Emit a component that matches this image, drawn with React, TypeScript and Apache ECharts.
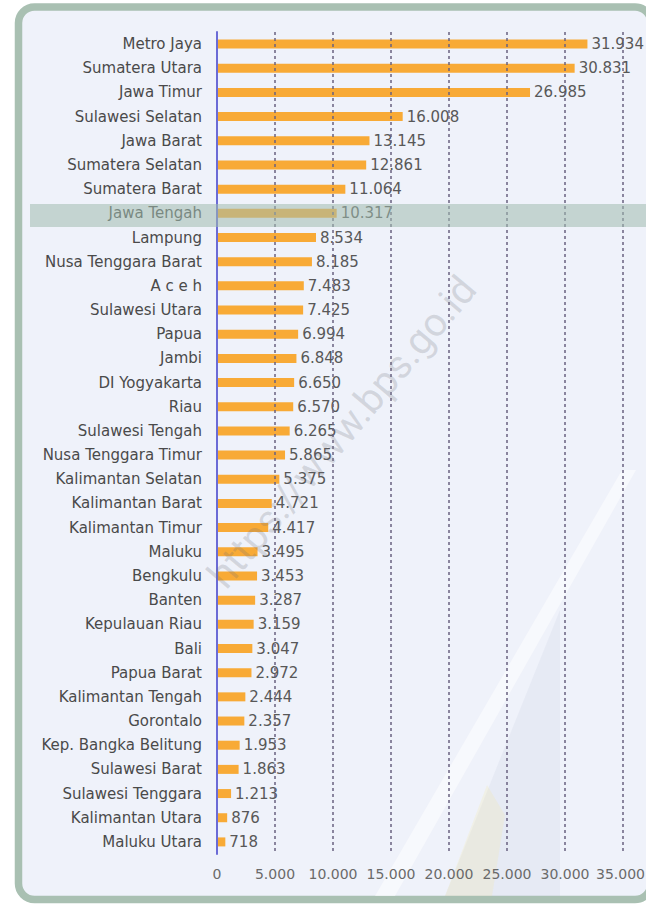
import React, { useEffect, useRef } from "react";
import * as echarts from "echarts";

const provinces = [
  "Metro Jaya", "Sumatera Utara", "Jawa Timur", "Sulawesi Selatan", "Jawa Barat",
  "Sumatera Selatan", "Sumatera Barat", "Jawa Tengah", "Lampung", "Nusa Tenggara Barat",
  "A c e h", "Sulawesi Utara", "Papua", "Jambi", "DI Yogyakarta", "Riau",
  "Sulawesi Tengah", "Nusa Tenggara Timur", "Kalimantan Selatan", "Kalimantan Barat",
  "Kalimantan Timur", "Maluku", "Bengkulu", "Banten", "Kepulauan Riau", "Bali",
  "Papua Barat", "Kalimantan Tengah", "Gorontalo", "Kep. Bangka Belitung",
  "Sulawesi Barat", "Sulawesi Tenggara", "Kalimantan Utara", "Maluku Utara",
];

const values = [
  31934, 30831, 26985, 16008, 13145, 12861, 11064, 10317, 8534, 8185,
  7483, 7425, 6994, 6848, 6650, 6570, 6265, 5865, 5375, 4721,
  4417, 3495, 3453, 3287, 3159, 3047, 2972, 2444, 2357, 1953,
  1863, 1213, 876, 718,
];

const xTicks = [0, 5000, 10000, 15000, 20000, 25000, 30000, 35000];

const fmt = (v: number) => String(v).replace(/\B(?=(\d{3})+(?!\d))/g, ".");

export default function App() {
  const ref = useRef<HTMLDivElement>(null);
  useEffect(() => {
    if (!ref.current) return;
    const chart = echarts.init(ref.current, null, { renderer: "svg" });
    const font = "'DejaVu Sans', Roboto, sans-serif";
    const lastTick = xTicks[xTicks.length - 1];
    chart.setOption({
      animation: false,
      backgroundColor: "#ffffff",
      textStyle: { fontFamily: font },
      graphic: [
        {
          type: "rect",
          z: -10,
          shape: { x: 18.5, y: 7, width: 632.5, height: 892.5, r: 16 },
          style: { fill: "#eff2fa", stroke: "#a9c0b2", lineWidth: 7.5 },
        },
        {
          type: "polygon",
          z: -5,
          shape: { points: [[445, 896], [560, 896], [560, 610]] },
          style: { fill: "rgba(160,170,195,0.10)" },
        },
        {
          type: "polygon",
          z: -5,
          shape: { points: [[375, 896], [395, 896], [636, 470], [622, 470]] },
          style: { fill: "rgba(255,255,255,0.5)" },
        },
        {
          type: "polygon",
          z: -5,
          shape: { points: [[445, 896], [492, 896], [505, 815], [487, 785]] },
          style: { fill: "rgba(250,228,130,0.16)" },
        },
        {
          type: "text",
          z: 100,
          x: 342,
          y: 432,
          rotation: (50 * Math.PI) / 180,
          style: {
            text: "https://www.bps.go.id",
            fontSize: 40,
            fontFamily: "Roboto, sans-serif",
            fill: "rgba(110,110,120,0.22)",
            align: "center",
            verticalAlign: "middle",
          },
        },
        {
          type: "rect",
          z: 100,
          shape: { x: 30, y: 204, width: 620, height: 23 },
          style: { fill: "rgba(160,188,175,0.55)" },
        },
      ],
      grid: {
        left: 217,
        right: 23,
        top: 32,
        bottom: 50,
        containLabel: false,
        outerBoundsMode: "none",
      },
      xAxis: {
        type: "value",
        min: 0,
        max: 35000,
        interval: 5000,
        z: 5,
        axisLine: { show: false },
        axisTick: { show: false },
        axisLabel: {
          margin: 13,
          fontSize: 14,
          color: "#6a6a6a",
          formatter: (v: number) =>
            !xTicks.includes(v) ? "" : v === lastTick ? `{e|${fmt(v)}}` : fmt(v),
          rich: {
            e: { fontSize: 14, color: "#6a6a6a", padding: [0, 5, 0, 0] },
          },
        },
        splitLine: {
          show: true,
          lineStyle: { color: "#6a6180", type: [3, 3], width: 1.5 },
        },
      },
      yAxis: {
        type: "category",
        inverse: true,
        data: provinces,
        z: 6,
        axisLine: { show: true, lineStyle: { color: "#6b6bd6", width: 2 } },
        axisTick: { show: false },
        axisLabel: { margin: 15, fontSize: 15, color: "#4a4a4a" },
      },
      series: [
        {
          type: "bar",
          data: values,
          barWidth: 9,
          z: 2,
          itemStyle: { color: "#f8aa36" },
          label: {
            show: true,
            position: "right",
            distance: 4,
            fontSize: 15,
            color: "#585858",
            formatter: (p: any) => fmt(p.value),
          },
        },
      ],
    });
    return () => chart.dispose();
  }, []);
  return (
    <div
      ref={ref}
      style={{ position: "absolute", left: 0, top: 0, width: 646, height: 904 }}
    />
  );
}
